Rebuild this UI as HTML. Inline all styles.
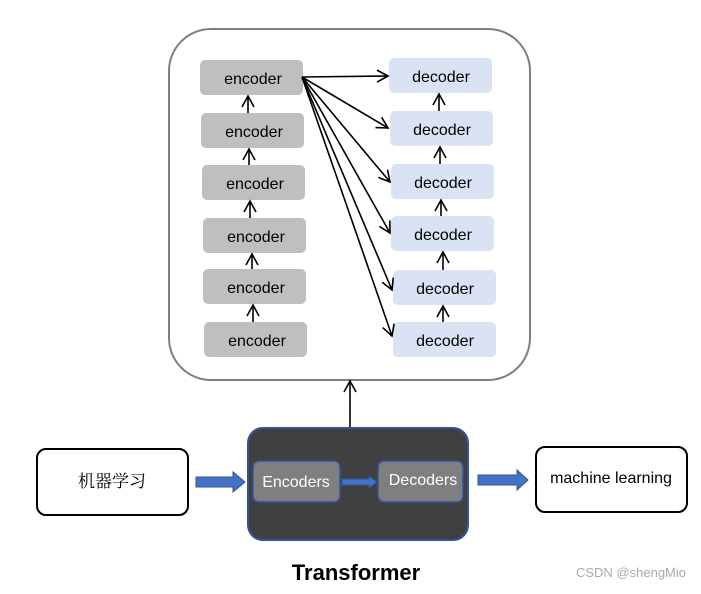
<!DOCTYPE html>
<html><head><meta charset="utf-8"><style>body{margin:0;background:#fff}</style></head><body>
<svg width="701" height="589" xmlns="http://www.w3.org/2000/svg" font-family="Liberation Sans, sans-serif">
<defs>
<marker id="a" markerWidth="14" markerHeight="14" refX="12" refY="7" orient="auto" markerUnits="userSpaceOnUse"><path d="M1,1 L12,7 L1,13" fill="none" stroke="#000" stroke-width="1.6"/></marker>
</defs>
<rect x="169" y="29" width="361" height="351" rx="42" fill="#fff" stroke="#7f7f7f" stroke-width="2"/>
<g fill="#bfbfbf">
<rect x="200" y="60" width="103" height="35" rx="5"/>
<rect x="201" y="113" width="103" height="35" rx="5"/>
<rect x="202" y="165" width="103" height="35" rx="5"/>
<rect x="203" y="218" width="103" height="35" rx="5"/>
<rect x="203" y="269" width="103" height="35" rx="5"/>
<rect x="204" y="322" width="103" height="35" rx="5"/>
</g>
<g fill="#dae3f3">
<rect x="389" y="58" width="103" height="35" rx="5"/>
<rect x="390" y="111" width="103" height="35" rx="5"/>
<rect x="391" y="164" width="103" height="35" rx="5"/>
<rect x="391" y="216" width="103" height="35" rx="5"/>
<rect x="393" y="270" width="103" height="35" rx="5"/>
<rect x="393" y="322" width="103" height="35" rx="5"/>
</g>
<g font-size="16" text-anchor="middle" fill="#000">
<text x="253" y="84">encoder</text><text x="254" y="137">encoder</text><text x="255" y="189">encoder</text>
<text x="256" y="242">encoder</text><text x="256" y="293">encoder</text><text x="257" y="346">encoder</text>
<text x="441" y="82">decoder</text><text x="442" y="135">decoder</text><text x="443" y="188">decoder</text>
<text x="443" y="240">decoder</text><text x="445" y="294">decoder</text><text x="445" y="346">decoder</text>
</g>
<g stroke="#000" stroke-width="1.6" fill="none" marker-end="url(#a)">
<line x1="248" y1="113" x2="248" y2="96"/><line x1="249" y1="165" x2="249" y2="149"/>
<line x1="250" y1="218" x2="250" y2="201"/><line x1="252" y1="269" x2="252" y2="254"/>
<line x1="253" y1="322" x2="253" y2="305"/>
<line x1="439" y1="111" x2="439" y2="94"/><line x1="440" y1="164" x2="440" y2="147"/>
<line x1="441" y1="216" x2="441" y2="200"/><line x1="443" y1="270" x2="443" y2="252"/>
<line x1="443" y1="322" x2="443" y2="306"/>
<line x1="302" y1="77" x2="388" y2="76"/><line x1="302" y1="77" x2="388" y2="128"/>
<line x1="302" y1="77" x2="390" y2="182"/><line x1="302" y1="77" x2="390" y2="233"/>
<line x1="302" y1="77" x2="392" y2="290"/><line x1="302" y1="77" x2="392" y2="336"/>
<line x1="350" y1="428" x2="350" y2="381"/>
</g>
<rect x="37" y="449" width="151" height="66" rx="9" fill="#fff" stroke="#000" stroke-width="2"/>
<text x="112" y="487" font-size="17" text-anchor="middle" font-family="Noto Serif CJK SC, serif">机器学习</text>
<rect x="536" y="447" width="151" height="65" rx="9" fill="#fff" stroke="#000" stroke-width="2"/>
<text x="611" y="483" font-size="16" text-anchor="middle">machine learning</text>
<rect x="248" y="428" width="220" height="112" rx="15" fill="#404040" stroke="#2f5597" stroke-width="2"/>
<rect x="253" y="461" width="87" height="41" rx="6" fill="#7f7f7f" stroke="#2f5597" stroke-width="1.5"/>
<rect x="378" y="461" width="85" height="41" rx="6" fill="#7f7f7f" stroke="#2f5597" stroke-width="1.5"/>
<text x="296" y="487" font-size="16" fill="#fff" text-anchor="middle">Encoders</text>
<text x="423" y="485" font-size="16" fill="#fff" text-anchor="middle">Decoders</text>
<g fill="#4472c4" stroke="#2f5597" stroke-width="1">
<path d="M196,477 H233 V472 L245,482 L233,492 V487 H196 Z"/>
<path d="M342,479 H369 V476 L377,482 L369,488 V485 H342 Z"/>
<path d="M478,475 H517 V470 L528,480 L517,490 V485 H478 Z"/>
</g>
<text x="356" y="580" font-size="22" font-weight="bold" text-anchor="middle">Transformer</text>
<text x="631" y="577" font-size="13" fill="#aaa" text-anchor="middle">CSDN @shengMio</text>
</svg>
</body></html>
